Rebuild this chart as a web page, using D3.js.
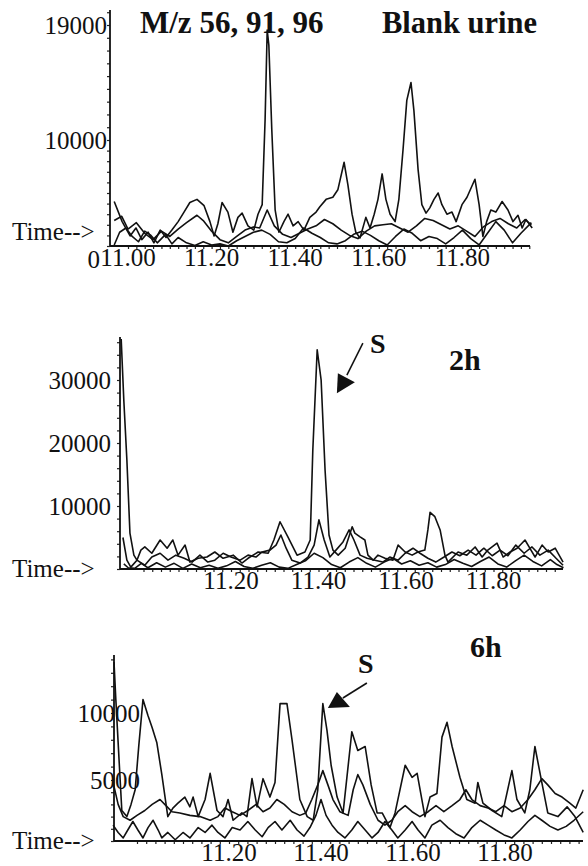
<!DOCTYPE html>
<html><head><meta charset="utf-8">
<script src="https://cdn.jsdelivr.net/npm/d3@7"></script>
<style>body{margin:0;background:#fff}svg{display:block}</style>
</head><body>
<script>
// ---------- DATA (time in min, abundance) ----------
const titleText = "M/z 56, 91, 96";
const panelLabels = ["Blank urine", "2h", "6h"];
const peakLabel = "S";
const axisLabel = "Time-->";

const p1YTicks = [0, 10000, 19000];
const p1XTicks = [11.00, 11.20, 11.40, 11.60, 11.80];
const p2YTicks = [10000, 20000, 30000];
const p2XTicks = [11.20, 11.40, 11.60, 11.80];
const p3YTicks = [5000, 10000];
const p3XTicks = [11.20, 11.40, 11.60, 11.80];

// Panel 1 – blank urine
const blankA = [[10.967,4200],[10.986,2300],[11.005,950],[11.019,1700],[11.033,600],[11.048,1300],[11.062,300],[11.077,1500],[11.091,800],[11.105,1500],[11.120,2300],[11.134,3200],[11.148,4100],[11.165,4400],[11.182,3800],[11.196,2300],[11.206,950],[11.215,2100],[11.225,4100],[11.239,3200],[11.251,1300],[11.263,2700],[11.273,3100],[11.287,1900],[11.301,1500],[11.311,3000],[11.321,3900],[11.328,11600],[11.333,18600],[11.337,17400],[11.344,10800],[11.352,3400],[11.361,1300],[11.373,2300],[11.383,3000],[11.395,1900],[11.407,2300],[11.421,1500],[11.435,2700],[11.450,3200],[11.459,3700],[11.474,4400],[11.490,4600],[11.502,5300],[11.517,7900],[11.526,5800],[11.536,3000],[11.545,1300],[11.555,760],[11.569,2700],[11.579,1700],[11.589,3000],[11.598,4400],[11.608,6800],[11.617,4400],[11.627,3000],[11.639,2300],[11.648,4400],[11.658,9100],[11.667,13100],[11.677,14500],[11.684,12300],[11.694,7200],[11.703,3900],[11.713,3100],[11.722,3600],[11.732,4400],[11.742,5000],[11.751,3900],[11.763,3000],[11.775,3200],[11.785,2300],[11.799,3900],[11.811,4600],[11.821,5500],[11.830,6300],[11.840,3900],[11.849,900],[11.858,2300],[11.868,3400],[11.880,3200],[11.895,4200],[11.909,3400],[11.921,2300],[11.933,2900],[11.943,1700],[11.952,2500],[11.967,1700]];
const blankB = [[10.967,2400],[10.985,2800],[11.00,1600],[11.02,2200],[11.04,1200],[11.06,600],[11.08,1400],[11.10,900],[11.12,1600],[11.14,2200],[11.165,2900],[11.18,2400],[11.20,1400],[11.22,600],[11.24,300],[11.26,900],[11.28,1500],[11.30,1800],[11.315,1700],[11.333,3400],[11.35,1900],[11.37,1100],[11.39,800],[11.41,1200],[11.43,1600],[11.45,1900],[11.47,2500],[11.49,2100],[11.51,1500],[11.53,1000],[11.55,700],[11.57,1400],[11.59,1900],[11.61,2000],[11.63,2100],[11.65,1700],[11.67,1300],[11.69,1900],[11.71,2600],[11.73,2400],[11.75,2000],[11.77,1600],[11.79,1900],[11.81,1400],[11.83,900],[11.85,1800],[11.87,2300],[11.89,2600],[11.91,2100],[11.93,1700],[11.95,2500],[11.965,2000]];
const blankC = [[10.967,100],[10.98,1300],[10.995,1700],[11.01,900],[11.025,400],[11.04,1400],[11.055,1000],[11.07,300],[11.09,1100],[11.105,200],[11.12,800],[11.14,300],[11.16,50],[11.18,400],[11.20,100],[11.22,200],[11.24,0],[11.26,500],[11.28,900],[11.30,1300],[11.32,1500],[11.34,1100],[11.36,400],[11.38,300],[11.40,700],[11.42,1700],[11.44,1200],[11.46,800],[11.48,300],[11.50,200],[11.52,500],[11.54,1100],[11.56,1400],[11.58,1000],[11.60,500],[11.62,100],[11.64,900],[11.66,1600],[11.68,1200],[11.70,500],[11.72,900],[11.74,700],[11.76,200],[11.78,800],[11.80,1500],[11.82,700],[11.84,100],[11.86,1200],[11.88,2300],[11.90,1500],[11.92,300],[11.94,1200],[11.965,2200]];

// Panel 2 – 2h
const h2A = [[10.949,36500],[10.955,26800],[10.962,17300],[10.969,5700],[10.978,2200],[10.985,1400],[10.994,3000],[11.003,3500],[11.019,2500],[11.038,4600],[11.054,3300],[11.067,4600],[11.079,2200],[11.095,3800],[11.106,1100],[11.125,1700],[11.145,1900],[11.163,2700],[11.182,1700],[11.205,2200],[11.225,950],[11.239,1700],[11.262,2700],[11.285,2500],[11.298,4600],[11.312,7500],[11.330,5100],[11.351,2200],[11.369,2700],[11.381,4600],[11.387,18900],[11.397,34800],[11.406,30000],[11.415,15700],[11.424,5400],[11.433,3000],[11.445,2200],[11.461,3300],[11.477,6700],[11.483,5700],[11.495,5100],[11.506,4600],[11.513,2200],[11.525,1400],[11.536,2200],[11.552,1700],[11.570,1400],[11.582,3800],[11.598,2700],[11.614,2200],[11.627,2700],[11.643,3000],[11.650,6200],[11.655,9000],[11.666,8300],[11.678,6200],[11.689,2200],[11.696,1100],[11.719,2700],[11.739,2200],[11.758,3500],[11.774,1900],[11.787,3000],[11.808,4100],[11.822,1900],[11.838,2700],[11.854,3300],[11.872,4600],[11.883,3300],[11.895,1900],[11.911,3800],[11.925,2700],[11.941,3300],[11.959,1100]];
const h2B = [[10.953,5000],[10.962,1400],[10.971,300],[10.985,1400],[11.003,600],[11.019,1900],[11.038,2500],[11.056,1400],[11.074,2200],[11.093,1700],[11.111,1100],[11.129,2200],[11.147,1100],[11.163,1400],[11.182,2500],[11.200,1900],[11.221,1400],[11.239,2200],[11.257,1900],[11.271,2700],[11.289,3000],[11.303,3800],[11.314,5400],[11.326,3300],[11.339,1400],[11.358,950],[11.376,1900],[11.390,3800],[11.401,7800],[11.413,4600],[11.426,1900],[11.440,3000],[11.456,4300],[11.470,6200],[11.481,4600],[11.495,2200],[11.511,1700],[11.529,1400],[11.547,1100],[11.563,1900],[11.582,1400],[11.598,2500],[11.616,3300],[11.632,2500],[11.650,1700],[11.668,1100],[11.687,1900],[11.705,2700],[11.723,2100],[11.742,3000],[11.760,2200],[11.778,3300],[11.797,2100],[11.815,3000],[11.833,2100],[11.851,3800],[11.870,2500],[11.888,3500],[11.906,2200],[11.925,3000],[11.943,1700],[11.959,600]];
const h2C = [[10.955,800],[10.965,200],[10.98,100],[10.995,900],[11.01,200],[11.03,1000],[11.05,300],[11.07,900],[11.09,100],[11.11,800],[11.13,200],[11.15,600],[11.17,100],[11.19,500],[11.21,1200],[11.23,400],[11.25,100],[11.27,600],[11.29,1000],[11.31,300],[11.33,100],[11.35,700],[11.37,1300],[11.39,2500],[11.41,1800],[11.43,700],[11.45,200],[11.47,1100],[11.49,1800],[11.51,900],[11.53,300],[11.55,1100],[11.57,1700],[11.59,800],[11.61,1300],[11.63,600],[11.65,1000],[11.67,300],[11.69,700],[11.71,1500],[11.73,900],[11.75,400],[11.77,1200],[11.79,1900],[11.81,800],[11.83,300],[11.85,1300],[11.87,2200],[11.89,1200],[11.91,500],[11.93,1500],[11.945,700],[11.96,200]];

// Panel 3 – 6h
const h6A = [[10.950,13800],[10.954,11000],[10.961,6500],[10.967,2500],[10.978,2000],[10.987,3000],[10.996,4200],[11.004,7600],[11.013,11000],[11.024,9800],[11.033,8900],[11.043,7800],[11.054,5400],[11.067,2000],[11.078,2700],[11.089,3100],[11.104,3600],[11.115,2800],[11.122,3600],[11.133,2000],[11.148,3400],[11.159,5500],[11.174,2500],[11.187,2000],[11.198,3400],[11.209,1700],[11.228,2300],[11.239,2000],[11.250,5100],[11.261,2800],[11.274,5100],[11.289,3600],[11.300,4800],[11.311,10700],[11.326,10700],[11.337,8000],[11.354,3400],[11.370,2000],[11.383,1700],[11.393,4200],[11.404,10700],[11.413,8700],[11.422,6100],[11.435,3600],[11.448,2300],[11.467,8600],[11.480,7200],[11.496,7500],[11.509,4600],[11.522,2300],[11.533,2300],[11.550,1100],[11.561,2300],[11.583,6100],[11.598,5200],[11.609,5500],[11.626,2000],[11.637,3600],[11.652,3900],[11.663,8200],[11.674,9300],[11.685,7500],[11.702,5200],[11.717,3400],[11.735,3100],[11.741,4800],[11.752,3100],[11.772,2500],[11.793,2000],[11.815,5700],[11.826,3400],[11.843,2300],[11.854,4200],[11.865,7500],[11.880,4800],[11.893,2300],[11.915,2000],[11.935,2800],[11.952,2000],[11.970,700]];
const h6B = [[10.948,4800],[10.959,3000],[10.970,2000],[10.985,1700],[11.000,2100],[11.017,2500],[11.033,3000],[11.050,3400],[11.063,2900],[11.076,2400],[11.093,2300],[11.115,2100],[11.137,2000],[11.159,1700],[11.176,2000],[11.191,2700],[11.207,2400],[11.224,2100],[11.241,2500],[11.259,3000],[11.274,2400],[11.289,2700],[11.304,3400],[11.320,3000],[11.337,2400],[11.354,2100],[11.367,2300],[11.380,3400],[11.393,4600],[11.404,5700],[11.415,4600],[11.426,3400],[11.441,2400],[11.459,2100],[11.470,4200],[11.480,5400],[11.491,4600],[11.507,3000],[11.524,1700],[11.539,1300],[11.554,1700],[11.567,2400],[11.583,2900],[11.598,2400],[11.615,2000],[11.633,2400],[11.650,2900],[11.667,2400],[11.685,2900],[11.702,3400],[11.715,4200],[11.728,3400],[11.746,2900],[11.763,2700],[11.780,2400],[11.798,2900],[11.815,2400],[11.833,2700],[11.850,3400],[11.865,4200],[11.880,5100],[11.893,4600],[11.909,3900],[11.924,3600],[11.941,3100],[11.954,2700],[11.970,4200]];
const h6C = [[10.948,1300],[10.959,700],[10.970,250],[10.980,900],[10.991,1600],[11.002,900],[11.013,250],[11.024,1100],[11.035,1700],[11.046,900],[11.054,250],[11.067,700],[11.083,100],[11.100,700],[11.115,250],[11.133,1100],[11.148,700],[11.163,1300],[11.176,700],[11.191,250],[11.207,1100],[11.224,900],[11.241,1600],[11.257,900],[11.272,350],[11.285,1100],[11.300,1600],[11.315,900],[11.333,1700],[11.348,900],[11.363,400],[11.376,1100],[11.389,2100],[11.400,3400],[11.411,2100],[11.424,1300],[11.437,700],[11.452,250],[11.467,900],[11.480,1600],[11.496,900],[11.511,250],[11.524,700],[11.539,1600],[11.554,900],[11.567,250],[11.583,900],[11.598,1600],[11.611,900],[11.626,250],[11.641,1300],[11.659,1700],[11.676,1100],[11.693,600],[11.711,250],[11.728,1100],[11.746,1700],[11.763,1300],[11.780,900],[11.798,500],[11.815,250],[11.833,900],[11.850,1600],[11.865,2100],[11.880,1700],[11.898,1200],[11.915,900],[11.933,1200],[11.950,1700],[11.970,2400]];

// S annotation targets (time, abundance) of arrow tips
const h2ArrowTip = [11.442, 27900];
const h6ArrowTip = [11.415, 10370];

// ---------- LAYOUT ----------
const W = 588, H = 866;
const FONT = "'Liberation Serif','Times New Roman',serif";
const svg = d3.select("body").append("svg").attr("width", W).attr("height", H)
  .style("font-family", FONT);

const panels = [
  { series:[blankA, blankB, blankC], xTicks:p1XTicks, yTicks:p1YTicks,
    x: d3.scaleLinear().domain([11.0, 11.8]).range([128, 462.4]),
    y: d3.scaleLinear().domain([0, 10000, 19000]).range([246, 140, 25]),
    axisX0:110, axisX1:530, yTop:10, minorY:d3.range(0, 20001, 1000), yLabelEnd:107,
    timeY:240, label:null },
  { series:[h2A, h2B, h2C], xTicks:p2XTicks, yTicks:p2YTicks,
    x: d3.scaleLinear().domain([11.2, 11.8]).range([231, 493.5]),
    y: d3.scaleLinear().domain([0, 10000]).range([569, 506]),
    axisX0:120, axisX1:563, yTop:337, minorY:d3.range(0, 37001, 2000), yLabelEnd:111,
    timeY:577, tip:h2ArrowTip,
    arrow:{line:[[10,-18],[26,-50]], head:[[0,0],[1,-20],[18,-11]], s:[33,-40]},
    label:{text:panelLabels[1], x:449, y:370} },
  { series:[h6A, h6B, h6C], xTicks:p3XTicks, yTicks:p3YTicks,
    x: d3.scaleLinear().domain([11.2, 11.8]).range([229, 505]),
    y: d3.scaleLinear().domain([0, 5000, 10000]).range([841, 780, 713]),
    axisX0:114, axisX1:583, yTop:655, minorY:d3.range(0, 14001, 1000), yLabelEnd:140,
    timeY:849, tip:h6ArrowTip,
    arrow:{line:[[15,-10],[39,-25]], head:[[0,0],[9,-16],[22,-1]], s:[30,-35]},
    label:{text:panelLabels[2], x:470, y:657} }
];

const line = (p) => d3.line().x(d => p.x(d[0])).y(d => p.y(d[1]));

panels.forEach((p, i) => {
  const g = svg.append("g");
  const base = p.y(0);
  // traces
  p.series.forEach(s => {
    g.append("path").datum(s).attr("d", line(p))
      .attr("fill", "none").attr("stroke", "#111").attr("stroke-width", 1.6)
      .attr("stroke-linejoin", "round");
  });
  // y axis (minor ticks)
  const yAxis = d3.axisLeft(p.y).tickValues(p.minorY.filter(v => p.y(v) >= p.yTop))
    .tickSize(3).tickFormat("");
  const ya = g.append("g").attr("transform", `translate(${p.axisX0},0)`).call(yAxis);
  ya.select(".domain").remove();
  ya.selectAll("line").attr("stroke", "#222").attr("stroke-width", 1.2);
  g.append("line").attr("x1", p.axisX0).attr("x2", p.axisX0).attr("y1", p.yTop).attr("y2", base)
    .attr("stroke", "#111").attr("stroke-width", 1.8);
  // x axis
  const xMinor = d3.range(11.0, 11.98, 0.02).filter(t => p.x(t) > p.axisX0 + 2 && p.x(t) < p.axisX1);
  const xAxis = d3.axisBottom(p.x).tickValues(xMinor).tickSize(3).tickFormat("");
  const xa = g.append("g").attr("transform", `translate(0,${base})`).call(xAxis);
  xa.select(".domain").remove();
  xa.selectAll("line").attr("stroke", "#222").attr("stroke-width", 1.2);
  g.append("line").attr("x1", p.axisX0).attr("x2", p.axisX1).attr("y1", base).attr("y2", base)
    .attr("stroke", "#111").attr("stroke-width", 2.2);
  // labels
  g.selectAll(".xl").data(p.xTicks).enter().append("text")
    .attr("x", d => p.x(d)).attr("y", base + 20).attr("text-anchor", "middle")
    .attr("font-size", 25).attr("fill", "#111").text(d => d3.format(".2f")(d));
  g.selectAll(".yl").data(p.yTicks.filter(v => v > 0)).enter().append("text")
    .attr("x", p.yLabelEnd).attr("y", d => p.y(d) + 9).attr("text-anchor", "end")
    .attr("font-size", 25).attr("fill", "#111").text(d => d);
  if (p.yTicks.includes(0)) {
    g.append("text").attr("x", p.x(11.0) - 28).attr("y", base + 22).attr("text-anchor", "end")
      .attr("font-size", 25).attr("fill", "#111").text("0");
  }
  g.append("text").attr("x", 12).attr("y", p.timeY).attr("font-size", 25).attr("fill", "#111")
    .text(axisLabel);
  if (p.label) {
    g.append("text").attr("x", p.label.x).attr("y", p.label.y).attr("font-size", 30)
      .attr("font-weight", "bold").attr("fill", "#111").text(p.label.text);
  }
  if (p.tip) {
    const tx = p.x(p.tip[0]), ty = p.y(p.tip[1]);
    const a = p.arrow;
    g.append("line").attr("x1", tx + a.line[0][0]).attr("y1", ty + a.line[0][1])
      .attr("x2", tx + a.line[1][0]).attr("y2", ty + a.line[1][1])
      .attr("stroke", "#111").attr("stroke-width", 1.6);
    g.append("path").attr("d", "M" + a.head.map(c => [tx + c[0], ty + c[1]].join(",")).join("L") + "Z")
      .attr("fill", "#111");
    g.append("text").attr("x", tx + a.s[0]).attr("y", ty + a.s[1]).attr("font-size", 28)
      .attr("font-weight", "bold").attr("fill", "#111").text(peakLabel);
  }
});

// titles for top panel
svg.append("text").attr("x", 140).attr("y", 33).attr("font-size", 31).attr("font-weight", "bold")
  .attr("fill", "#111").text(titleText);
svg.append("text").attr("x", 382).attr("y", 33).attr("font-size", 30.5).attr("font-weight", "bold")
  .attr("fill", "#111").text(panelLabels[0]);
</script>
</body></html>
